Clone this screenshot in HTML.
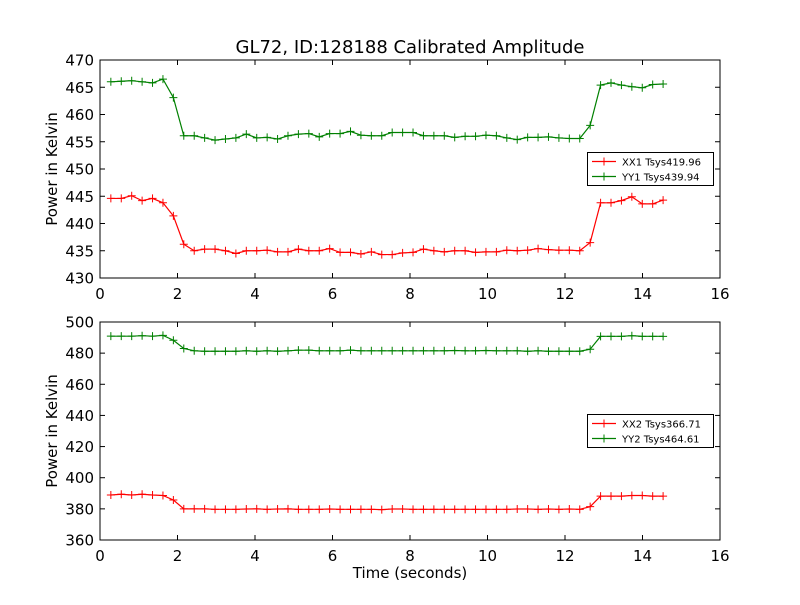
<!DOCTYPE html>
<html><head><meta charset="utf-8"><style>
body{margin:0;background:#fff}
svg{font-family:"DejaVu Sans","Liberation Sans",sans-serif}
</style></head><body>
<svg id="chart" width="800" height="600" xmlns="http://www.w3.org/2000/svg">
<rect width="800" height="600" fill="#fff"/>
<text x="410" y="53" font-size="18" text-anchor="middle">GL72, ID:128188 Calibrated Amplitude</text>
<g id="top"></g><g id="bot"></g>
<text x="410" y="578" font-size="15" text-anchor="middle">Time (seconds)</text>
</svg>
<script>
const xx1 = [444.6,444.6,445.1,444.2,444.6,443.8,441.4,436.2,435.0,435.3,435.3,435.0,434.5,435.0,435.0,435.1,434.8,434.8,435.3,435.0,435.0,435.4,434.7,434.7,434.4,434.8,434.3,434.3,434.6,434.7,435.3,435.0,434.8,435.0,435.0,434.7,434.8,434.8,435.1,435.0,435.1,435.4,435.2,435.1,435.1,435.0,436.5,443.8,443.8,444.2,444.9,443.6,443.6,444.3];
const yy1 = [466.0,466.1,466.2,466.0,465.8,466.5,463.1,456.1,456.1,455.7,455.3,455.5,455.7,456.4,455.7,455.8,455.5,456.1,456.4,456.5,455.9,456.5,456.5,456.9,456.2,456.1,456.1,456.7,456.7,456.7,456.1,456.1,456.1,455.8,456.0,456.0,456.2,456.1,455.7,455.4,455.8,455.8,455.9,455.7,455.6,455.6,458.0,465.4,465.8,465.4,465.1,464.9,465.5,465.6];
const xx2 = [388.9,389.4,388.9,389.4,388.9,388.6,385.7,380.0,380.0,380.0,379.7,379.7,379.7,379.9,380.0,379.7,379.9,380.0,379.7,379.7,379.7,379.9,379.7,379.7,379.7,379.7,379.5,379.9,379.9,379.7,379.7,379.7,379.7,379.7,379.7,379.7,379.7,379.7,379.7,379.9,379.9,379.7,379.9,379.7,379.9,379.7,381.4,388.2,388.2,388.2,388.6,388.6,388.2,388.2];
const yy2 = [490.9,490.9,490.9,491.2,490.9,491.4,488.3,483.0,481.5,481.2,481.2,481.2,481.2,481.5,481.2,481.5,481.2,481.5,481.9,481.9,481.5,481.5,481.5,481.9,481.5,481.5,481.5,481.5,481.5,481.5,481.5,481.5,481.5,481.7,481.5,481.5,481.7,481.5,481.5,481.5,481.2,481.5,481.2,481.2,481.2,481.2,482.5,490.8,490.8,490.8,491.2,490.8,490.8,490.8];
const times = xx1.map((_, i) => 0.28 + i * 0.2689);
const xTicks = [0,2,4,6,8,10,12,14,16];
const yTicksTop = [430,435,440,445,450,455,460,465,470];
const yTicksBot = [360,380,400,420,440,460,480,500];
const legendTop = ["XX1 Tsys419.96","YY1 Tsys439.94"];
const legendBot = ["XX2 Tsys366.71","YY2 Tsys464.61"];
const NS="http://www.w3.org/2000/svg";
function mk(tag, attrs, parent){const e=document.createElementNS(NS,tag);for(const k in attrs)e.setAttribute(k,attrs[k]);parent.appendChild(e);return e;}
function panel(g, top, bottom, ymin, ymax, yTicks, series, colors, legend, legY, pname){
  const L=100,R=720;
  const sx=t=>L+(t-0)/(16-0)*(R-L);
  const sy=v=>bottom-(v-ymin)/(ymax-ymin)*(bottom-top);
  xTicks.forEach(t=>{
    const x=sx(t);
    const a=mk('line',{x1:x,x2:x,y1:bottom,y2:bottom-5,stroke:'#000'},g);
    
    
    const b=mk('line',{x1:x,x2:x,y1:top,y2:top+5,stroke:'#000'},g);
    
    
    const tx=mk('text',{x:x,y:bottom+21,'font-size':15,'text-anchor':'middle'},g);
    tx.textContent=t;
    
    
  });
  yTicks.forEach(v=>{
    const y=sy(v);
    const a=mk('line',{x1:L,x2:L+5,y1:y,y2:y,stroke:'#000'},g);
    
    
    const b=mk('line',{x1:R,x2:R-5,y1:y,y2:y,stroke:'#000'},g);
    
    
    const tx=mk('text',{x:L-6,y:y+5.5,'font-size':15,'text-anchor':'end'},g);
    tx.textContent=v;
    
    
  });
  series.forEach((s,k)=>{
    const pts=s.map((v,i)=>sx(times[i])+','+sy(v)).join(' ');
    const pl=mk('polyline',{points:pts,fill:'none',stroke:colors[k],'stroke-width':1.2},g);
    
    
    s.forEach((v,i)=>{
      const x=sx(times[i]),y=sy(v);
      const p=mk('path',{d:`M${x-4},${y}H${x+4}M${x},${y-4}V${y+4}`,stroke:colors[k],'stroke-width':1},g);
      
      
    });
  });
  const fr=mk('rect',{x:L,y:top,width:R-L,height:bottom-top,fill:'none',stroke:'#000','stroke-width':1},g);
  
  
  const yl=mk('text',{x:0,y:0,'font-size':15,'text-anchor':'middle',transform:`translate(57,${(top+bottom)/2}) rotate(-90)`},g);
  yl.textContent='Power in Kelvin';
  
  
  const lg=mk('g',{},g);
  
  
  mk('rect',{x:587.5,y:legY,width:126,height:33,fill:'#fff',stroke:'#000','stroke-width':1},lg);
  legend.forEach((t,k)=>{
    const y=legY+9+k*15;
    mk('line',{x1:592,x2:616,y1:y,y2:y,stroke:colors[k],'stroke-width':1.2},lg);
    mk('path',{d:`M600,${y}H608M604,${y-4}V${y+4}`,stroke:colors[k]},lg);
    const tx=mk('text',{x:622,y:y+4,'font-size':10},lg);
    tx.textContent=t;
    
    
  });
}
panel(document.getElementById('top'),60,278,430,470,yTicksTop,[xx1,yy1],['#ff0000','#008000'],legendTop,152.5,'top');
panel(document.getElementById('bot'),322,540,360,500,yTicksBot,[xx2,yy2],['#ff0000','#008000'],legendBot,414.5,'bottom');
</script>
</body></html>
